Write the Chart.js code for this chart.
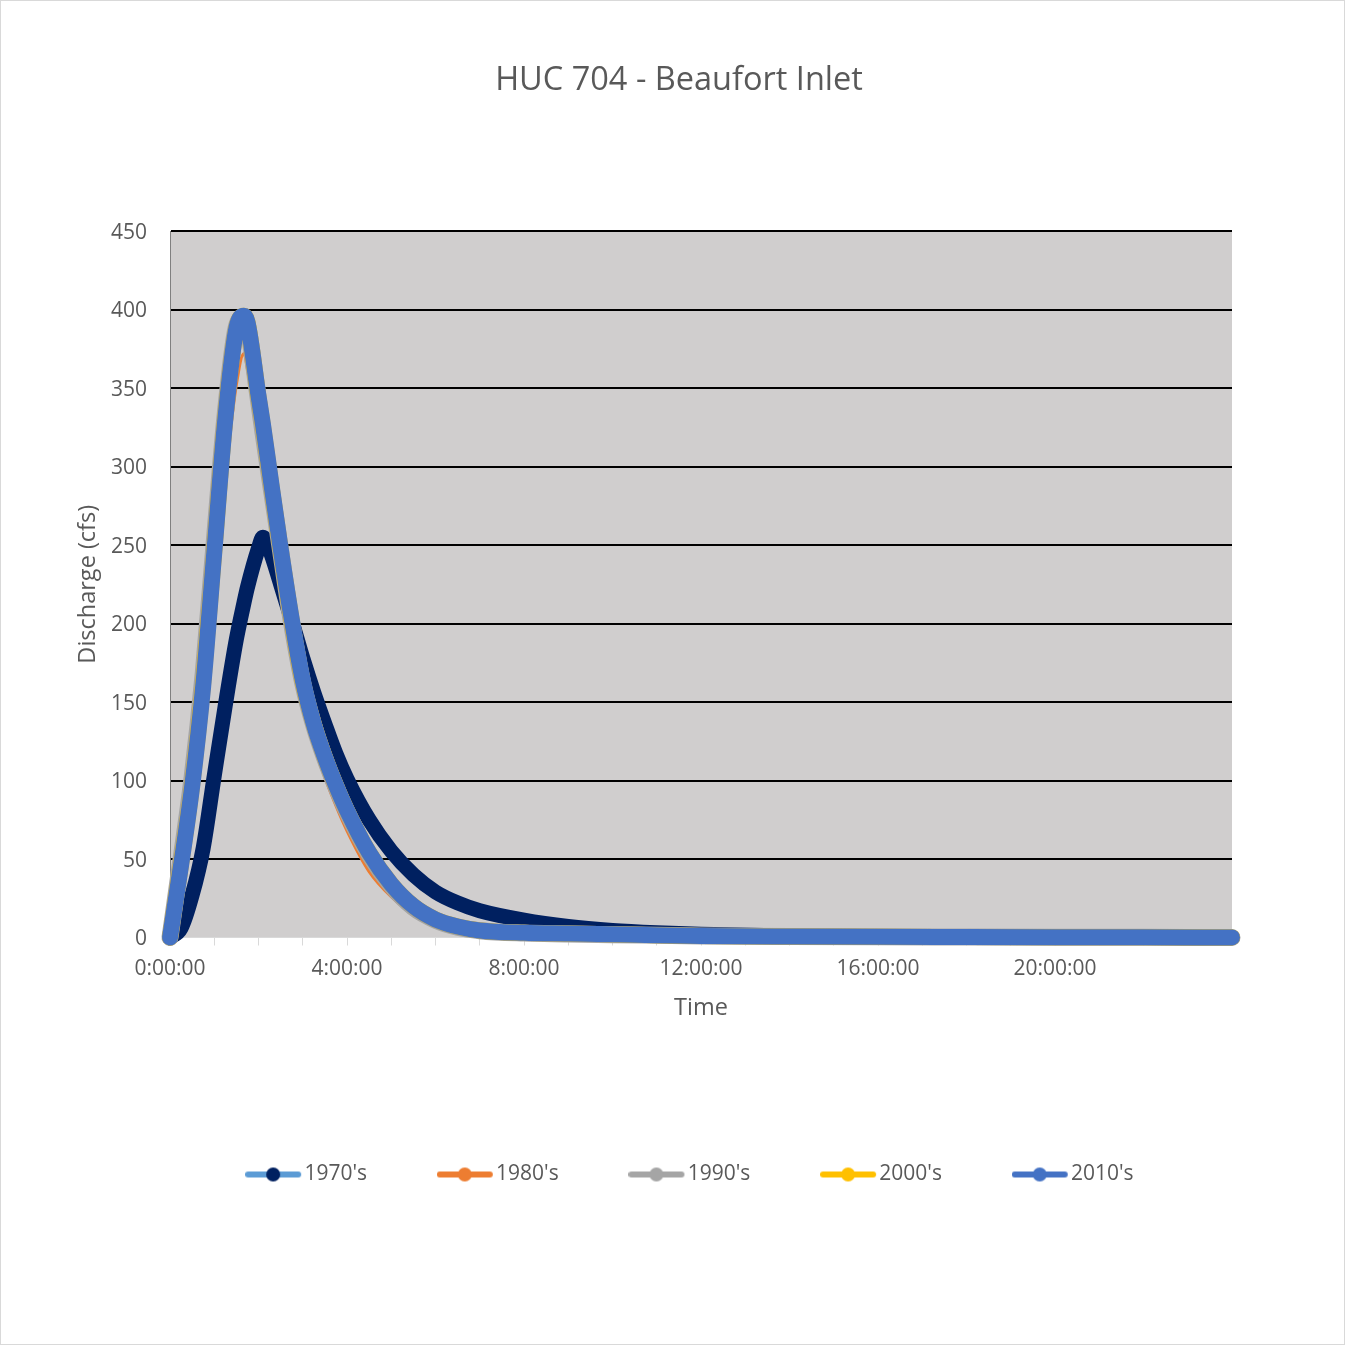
<!DOCTYPE html>
<html>
<head>
<meta charset="utf-8">
<script src="https://cdn.jsdelivr.net/npm/chart.js@4.4.0/dist/chart.umd.min.js"></script>
<style>
  html, body { margin: 0; padding: 0; background: #fff; }
  #wrap { width: 1345px; height: 1345px; box-sizing: border-box; border: 1px solid #d9d9d9; }
  canvas { display: block; }
</style>
</head>
<body>
<div id="wrap"><canvas id="chart" width="1343" height="1343"></canvas></div>
<script>
// time since start, in hours
const hours = [0, 0.25, 0.5, 0.75, 1, 1.25, 1.5, 1.67, 1.75, 2, 2.1, 2.25, 2.5, 2.75, 3, 3.25, 3.5, 3.75,
  4, 4.5, 5, 5.5, 6, 6.5, 7, 8, 9, 10, 11, 12, 14, 16, 18, 20, 22, 24];

// discharge (cfs) per decade
const q1970 = [0, 6, 27, 57, 103, 148, 190, 213, 223, 248, 255, 247, 225, 202, 178, 156, 136, 117,
  101, 75, 55, 40, 29, 22, 17, 11, 7, 4.5, 3, 2, 1, 0.6, 0.4, 0.3, 0.2, 0.1];
const q1980 = [0, 30, 75, 132, 210, 292, 352, 372, 362, 318, 300, 270, 224, 182, 147, 122, 102, 84,
  68, 42, 26, 15, 9, 5.5, 3.5, 1.5, 0.8, 0.4, 0.3, 0.2, 0.1, 0, 0, 0, 0, 0];
const q1990 = [0, 50, 102, 168, 252, 334, 389, 395, 390, 342, 322, 293, 246, 200, 162, 135, 114, 96,
  80, 53, 33, 19, 11, 6.5, 4.3, 2.8, 2.3, 1.8, 1.4, 1, 0.6, 0.4, 0.3, 0.2, 0.1, 0];
const q2000 = [0, 47, 97, 162, 246, 331, 388, 396, 392, 344, 326, 296, 247, 202, 163, 136, 115, 97,
  81, 54, 34, 20, 11.5, 7, 4.5, 3, 2.5, 2, 1.5, 1, 0.6, 0.4, 0.3, 0.2, 0.1, 0.05];
const q2010 = [0, 46, 96, 160, 245, 330, 388, 396, 392, 345, 327, 297, 248, 203, 164, 136, 115, 97,
  81, 54, 34, 20, 11.5, 7, 4.5, 3, 2.5, 2, 1.5, 1, 0.6, 0.4, 0.3, 0.2, 0.1, 0.05];

const seriesNames = ["1970's", "1980's", "1990's", "2000's", "2010's"];
const yTicks = [0, 50, 100, 150, 200, 250, 300, 350, 400, 450];

const FONT = "'Open Sans', 'Noto Sans', sans-serif";
const TEXT = '#595959';

function toPoints(vals) {
  return hours.map((h, i) => ({ x: h, y: vals[i] }));
}

// little line + dot swatch like the Excel legend
function legendIcon(lineColor, dotColor) {
  const c = document.createElement('canvas');
  c.width = 72;
  c.height = 18;
  const g = c.getContext('2d');
  g.strokeStyle = lineColor;
  g.lineWidth = 6;
  g.lineCap = 'round';
  g.beginPath();
  g.moveTo(3, 9);
  g.lineTo(53, 9);
  g.stroke();
  g.fillStyle = dotColor;
  g.beginPath();
  g.arc(28, 9, 7, 0, Math.PI * 2);
  g.fill();
  return c;
}

const icons = [
  legendIcon('#5B9BD5', '#002060'),
  legendIcon('#ED7D31', '#ED7D31'),
  legendIcon('#A5A5A5', '#A5A5A5'),
  legendIcon('#FFC000', '#FFC000'),
  legendIcon('#4472C4', '#4472C4')
];

const plotBg = {
  id: 'plotBg',
  beforeDraw(chart) {
    const { ctx, chartArea: a } = chart;
    ctx.save();
    ctx.fillStyle = '#D0CECE';
    ctx.fillRect(a.left, a.top, a.width, a.height);
    ctx.restore();
  }
};

function lineSet(label, vals, color, width, order) {
  return {
    label,
    data: toPoints(vals),
    borderColor: color,
    backgroundColor: color,
    borderWidth: width,
    borderCapStyle: 'round',
    borderJoinStyle: 'round',
    cubicInterpolationMode: 'monotone',
    pointRadius: 0,
    pointHoverRadius: 0,
    clip: false,
    order
  };
}

const ctx = document.getElementById('chart').getContext('2d');
new Chart(ctx, {
  type: 'line',
  data: {
    datasets: [
      lineSet(seriesNames[0], q1970, '#002060', 15, 4),
      lineSet(seriesNames[1], q1980, '#ED7D31', 3, 3),
      lineSet(seriesNames[2], q1990, '#A5A5A5', 17, 2),
      lineSet(seriesNames[3], q2000, '#FFC000', 16, 1),
      lineSet(seriesNames[4], q2010, '#4472C4', 16, 0)
    ]
  },
  options: {
    responsive: false,
    animation: false,
    devicePixelRatio: 1,
    layout: { padding: { left: 70, right: 57, top: 0, bottom: 149 } },
    plugins: {
      tooltip: { enabled: false },
      title: {
        display: true,
        text: 'HUC 704 - Beaufort Inlet',
        color: TEXT,
        font: { family: FONT, size: 32.5, weight: 'normal' },
        padding: { top: 60, bottom: 131 }
      },
      legend: {
        position: 'bottom',
        fullSize: false,
        labels: {
          usePointStyle: true,
          pointStyleWidth: 25.5,
          boxHeight: 21,
          padding: 93,
          color: TEXT,
          font: { family: FONT, size: 21 },
          sort: (a, b) => a.datasetIndex - b.datasetIndex,
          generateLabels(chart) {
            const items = Chart.defaults.plugins.legend.labels.generateLabels(chart);
            items.forEach(it => { it.pointStyle = icons[it.datasetIndex]; });
            return items;
          }
        }
      }
    },
    scales: {
      x: {
        type: 'linear',
        min: 0,
        max: 24,
        ticks: {
          stepSize: 1,
          autoSkip: false,
          maxRotation: 0,
          padding: 11,
          color: TEXT,
          font: { family: FONT, size: 21 },
          callback: v => (v % 4 === 0 && v < 24) ? v + ':00:00' : ''
        },
        grid: { drawOnChartArea: false, drawTicks: true, tickLength: 8, color: '#D9D9D9' },
        border: { display: true, color: '#D9D9D9', width: 1 },
        title: {
          display: true,
          text: 'Time',
          color: TEXT,
          font: { family: FONT, size: 23.5 },
          padding: { top: 4, bottom: 49 }
        },
        afterFit(s) { s.height = 133.5; }
      },
      y: {
        min: 0,
        max: 450,
        afterBuildTicks(s) { s.ticks = yTicks.map(v => ({ value: v })); },
        ticks: {
          padding: 23,
          labelOffset: 2,
          color: TEXT,
          font: { family: FONT, size: 21 }
        },
        grid: {
          drawTicks: false,
          lineWidth: 2,
          color: c => (c.tick && c.tick.value === 0) ? 'rgba(0,0,0,0)' : '#000000'
        },
        border: { display: true, color: '#808080', width: 1 },
        title: {
          display: true,
          text: 'Discharge (cfs)',
          color: TEXT,
          font: { family: FONT, size: 23.5 },
          padding: { top: 3, bottom: 0 }
        },
        afterFit(s) { s.width = 99; }
      },
      y2: {
        position: 'right',
        display: true,
        grid: { display: false },
        ticks: { display: false },
        border: { display: false },
        afterFit(s) { s.width = 55; }
      }
    }
  },
  plugins: [plotBg]
});
</script>
</body>
</html>
